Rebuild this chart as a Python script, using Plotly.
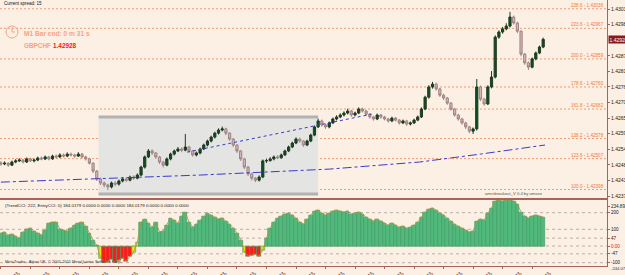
import plotly.graph_objects as go
import pandas as pd

# ---------------- data ----------------
bar_start = "2012-02-29 07:07"
bar_step = "2min"

open_ = [1.42492,1.42488,1.42491,1.42484,1.42495,1.42499,1.42502,1.42495,1.42506,1.42499,
 1.42502,1.42509,1.42506,1.42513,1.42506,1.42516,1.42513,1.42520,1.42516,1.42523,
 1.42520,1.42516,1.42523,1.42513,1.42506,1.42491,1.42463,1.42435,1.42421,1.42414,
 1.42407,1.42421,1.42417,1.42428,1.42435,1.42431,1.42442,1.42438,1.42449,1.42477,
 1.42513,1.42534,1.42527,1.42513,1.42495,1.42484,1.42506,1.42523,1.42534,1.42541,
 1.42537,1.42548,1.42534,1.42520,1.42527,1.42541,1.42555,1.42569,1.42583,1.42597,
 1.42608,1.42612,1.42597,1.42576,1.42555,1.42534,1.42506,1.42477,1.42453,1.42438,
 1.42431,1.42442,1.42499,1.42500,1.42506,1.42513,1.42510,1.42520,1.42534,1.42548,
 1.42562,1.42576,1.42569,1.42555,1.42569,1.42590,1.42619,1.42640,1.42626,1.42619,
 1.42633,1.42647,1.42654,1.42661,1.42668,1.42675,1.42661,1.42668,1.42682,1.42675,
 1.42664,1.42654,1.42647,1.42661,1.42654,1.42647,1.42640,1.42650,1.42643,1.42633,
 1.42640,1.42629,1.42633,1.42643,1.42654,1.42682,1.42724,1.42760,1.42770,1.42753,
 1.42731,1.42721,1.42703,1.42682,1.42661,1.42647,1.42633,1.42619,1.42604,1.42612,
 1.42760,1.42717,1.42700,1.42760,1.42795,1.42936,1.42954,1.42965,1.42975,1.43007,
 1.42986,1.42957,1.42876,1.42845,1.42830,1.42859,1.42880,1.42901]

high = [1.42498,1.42497,1.42494,1.42500,1.42505,1.42508,1.42506,1.42511,1.42510,1.42507,
 1.42514,1.42515,1.42518,1.42517,1.42521,1.42522,1.42526,1.42525,1.42529,1.42528,
 1.42524,1.42530,1.42527,1.42517,1.42510,1.42494,1.42467,1.42440,1.42426,1.42418,
 1.42426,1.42427,1.42433,1.42440,1.42441,1.42447,1.42448,1.42455,1.42482,1.42518,
 1.42541,1.42540,1.42530,1.42516,1.42499,1.42511,1.42528,1.42539,1.42548,1.42547,
 1.42594,1.42552,1.42538,1.42532,1.42546,1.42560,1.42574,1.42588,1.42602,1.42614,
 1.42620,1.42616,1.42600,1.42580,1.42558,1.42537,1.42510,1.42481,1.42457,1.42442,
 1.42448,1.42504,1.42507,1.42512,1.42518,1.42519,1.42525,1.42539,1.42553,1.42567,
 1.42582,1.42581,1.42572,1.42574,1.42595,1.42624,1.42648,1.42645,1.42630,1.42638,
 1.42652,1.42660,1.42667,1.42674,1.42683,1.42679,1.42673,1.42688,1.42687,1.42679,
 1.42668,1.42658,1.42666,1.42665,1.42658,1.42651,1.42655,1.42654,1.42647,1.42645,
 1.42644,1.42638,1.42648,1.42659,1.42688,1.42729,1.42766,1.42778,1.42775,1.42757,
 1.42736,1.42725,1.42707,1.42686,1.42665,1.42651,1.42637,1.42623,1.42617,1.42788,
 1.42765,1.42722,1.42766,1.42816,1.42942,1.42960,1.42972,1.42985,1.43025,1.43012,
 1.42990,1.42960,1.42880,1.42850,1.42864,1.42885,1.42906,1.42934]

low = [1.42482,1.42484,1.42478,1.42481,1.42491,1.42495,1.42490,1.42492,1.42495,1.42494,
 1.42498,1.42501,1.42502,1.42501,1.42503,1.42508,1.42509,1.42511,1.42512,1.42515,
 1.42510,1.42513,1.42508,1.42500,1.42486,1.42456,1.42428,1.42414,1.42406,1.42396,
 1.42402,1.42410,1.42412,1.42423,1.42425,1.42427,1.42432,1.42434,1.42445,1.42472,
 1.42509,1.42520,1.42506,1.42488,1.42476,1.42480,1.42501,1.42518,1.42530,1.42530,
 1.42533,1.42528,1.42514,1.42515,1.42522,1.42537,1.42550,1.42564,1.42578,1.42592,
 1.42603,1.42590,1.42570,1.42548,1.42527,1.42499,1.42470,1.42446,1.42430,1.42424,
 1.42426,1.42438,1.42492,1.42496,1.42501,1.42505,1.42506,1.42516,1.42530,1.42544,
 1.42558,1.42563,1.42549,1.42551,1.42565,1.42586,1.42615,1.42620,1.42612,1.42614,
 1.42629,1.42642,1.42650,1.42656,1.42663,1.42655,1.42656,1.42664,1.42670,1.42658,
 1.42648,1.42641,1.42643,1.42648,1.42642,1.42634,1.42636,1.42638,1.42627,1.42629,
 1.42623,1.42624,1.42629,1.42639,1.42650,1.42678,1.42719,1.42754,1.42747,1.42725,
 1.42714,1.42697,1.42676,1.42655,1.42641,1.42627,1.42612,1.42597,1.42594,1.42606,
 1.42710,1.42694,1.42696,1.42755,1.42790,1.42930,1.42948,1.42960,1.42970,1.42980,
 1.42950,1.42868,1.42838,1.42820,1.42826,1.42854,1.42876,1.42897]

close = [1.42488,1.42491,1.42484,1.42495,1.42499,1.42502,1.42495,1.42506,1.42499,1.42502,
 1.42509,1.42506,1.42513,1.42506,1.42516,1.42513,1.42520,1.42516,1.42523,1.42520,
 1.42516,1.42523,1.42513,1.42506,1.42491,1.42463,1.42435,1.42421,1.42414,1.42407,
 1.42421,1.42417,1.42428,1.42435,1.42431,1.42442,1.42438,1.42449,1.42477,1.42513,
 1.42534,1.42527,1.42513,1.42495,1.42484,1.42506,1.42523,1.42534,1.42541,1.42537,
 1.42548,1.42534,1.42520,1.42527,1.42541,1.42555,1.42569,1.42583,1.42597,1.42608,
 1.42612,1.42597,1.42576,1.42555,1.42534,1.42506,1.42477,1.42453,1.42438,1.42431,
 1.42442,1.42499,1.42500,1.42506,1.42513,1.42510,1.42520,1.42534,1.42548,1.42562,
 1.42576,1.42569,1.42555,1.42569,1.42590,1.42619,1.42640,1.42626,1.42619,1.42633,
 1.42647,1.42654,1.42661,1.42668,1.42675,1.42661,1.42668,1.42682,1.42675,1.42664,
 1.42654,1.42647,1.42661,1.42654,1.42647,1.42640,1.42650,1.42643,1.42633,1.42640,
 1.42629,1.42633,1.42643,1.42654,1.42682,1.42724,1.42760,1.42770,1.42753,1.42731,
 1.42721,1.42703,1.42682,1.42661,1.42647,1.42633,1.42619,1.42604,1.42612,1.42760,
 1.42717,1.42700,1.42760,1.42795,1.42936,1.42954,1.42965,1.42975,1.43007,1.42986,
 1.42957,1.42876,1.42845,1.42830,1.42859,1.42880,1.42901,1.42928]

cci = [78,84,66,72,60,48,84,102,108,90,
 78,66,96,138,144,144,102,96,90,108,
 126,138,144,120,78,36,6,-72,-96,-90,
 -78,-96,-84,-72,-90,-60,-36,24,144,162,
 138,114,144,84,90,126,168,156,138,180,
 204,144,114,132,156,180,198,186,174,162,
 168,150,132,108,78,36,-36,-60,-54,-48,
 -60,-24,48,108,144,168,180,192,198,186,
 168,144,132,162,186,210,216,198,186,198,
 210,216,210,204,210,192,198,204,192,174,
 162,150,162,150,138,126,138,126,114,120,
 108,114,126,144,174,204,222,228,216,198,
 186,168,150,132,120,108,96,84,90,150,
 162,156,198,228,270,276,270,276,276,270,
 252,204,180,168,180,186,180,174]
cci_yellow_bars = [27, 36, 37, 66, 71]

ma_times = ["2012-02-29 07:07", "2012-02-29 07:55", "2012-02-29 08:55", "2012-02-29 10:05",
            "2012-02-29 10:54", "2012-02-29 11:27", "2012-02-29 12:02"]
ma_values = [1.42424, 1.42435, 1.42449, 1.42470, 1.42495, 1.42523, 1.42555]

trend_times = ["2012-02-29 08:48", "2012-02-29 10:28"]
trend_values = [1.42530, 1.42664]

box_start, box_end = "2012-02-29 08:00", "2012-02-29 09:59"
box_high, box_low = 1.42654, 1.42382

fib_pct = [100.0, 123.6, 138.2, 161.8, 178.6, 200.0, 223.6, 238.6]
fib_price = [1.42398, 1.42507, 1.42578, 1.42682, 1.42760, 1.42859, 1.42967, 1.43036]

price_ticks = [1.42375, 1.42430, 1.42485, 1.42540, 1.42595, 1.42650, 1.42705,
               1.42760, 1.42815, 1.42870, 1.42980, 1.43035]
current_price = 1.42928

time_tick_start = "2012-02-29 07:07"
time_tick_labels = ["29 Feb 2012", "29 Feb 07:23", "29 Feb 07:39", "29 Feb 07:55", "29 Feb 08:11",
                    "29 Feb 08:27", "29 Feb 08:43", "29 Feb 08:59", "29 Feb 09:15", "29 Feb 09:31",
                    "29 Feb 09:47", "29 Feb 10:03", "29 Feb 10:19", "29 Feb 10:35", "29 Feb 10:51",
                    "29 Feb 11:07", "29 Feb 11:23", "29 Feb 11:39", "29 Feb 11:55"]

cci_levels = [200, 100, 47, 0, -47, -100]
cci_tick_vals = [234.895, 200, 100, 47, 0, -47, -100]
cci_tick_text = ["234.895", "200", "100", "47", "<span style='color:#e02020'>0.00</span>", "-47", "-100"]
cci_min_label = "-244.075"

# ---------------- layout helpers ----------------
W, H = 625, 275
def px(x):
    return x / W
def py(y):
    return 1 - y / H

BG = "#fcefe3"
FRAME = "#a8645a"
FONT = "Liberation Sans Narrow, Arial Narrow, Liberation Sans, Arial, sans-serif"

times = pd.date_range(bar_start, periods=len(close), freq=bar_step)
tick_times = pd.date_range(time_tick_start, periods=len(time_tick_labels), freq="16min")

fig = go.Figure()

fig.add_trace(go.Candlestick(
    x=times, open=open_, high=high, low=low, close=close,
    increasing=dict(line=dict(color="#1e3a22", width=1), fillcolor="#0f4f1f"),
    decreasing=dict(line=dict(color="#9c8484", width=1), fillcolor="#d6b6b6"),
    whiskerwidth=0, xaxis="x", yaxis="y", hoverinfo="skip"))

fig.add_trace(go.Scatter(x=pd.to_datetime(ma_times), y=ma_values, mode="lines",
                         line=dict(color="#3a3ad0", width=1, dash="dashdot"),
                         xaxis="x", yaxis="y", hoverinfo="skip"))
fig.add_trace(go.Scatter(x=pd.to_datetime(trend_times), y=trend_values, mode="lines",
                         line=dict(color="#3a3ad0", width=1, dash="dot"),
                         xaxis="x", yaxis="y", hoverinfo="skip"))

bar_colors = []
for i, v in enumerate(cci):
    if i in cci_yellow_bars:
        bar_colors.append("#f2e600")
    elif v >= 0:
        bar_colors.append("#52b97c")
    else:
        bar_colors.append("#ff1a1a")

fig.add_trace(go.Bar(x=times, y=cci, marker=dict(color=bar_colors, line=dict(width=0.6, color="#3a9a62")),
                     xaxis="x2", yaxis="y2", hoverinfo="skip"))
fig.add_trace(go.Scatter(x=times, y=cci, mode="lines", line=dict(color="#a8963c", width=0.8),
                         xaxis="x2", yaxis="y2", hoverinfo="skip"))

shapes = []
# breakout box
shapes.append(dict(type="rect", xref="x", yref="y", x0=box_start, x1=box_end, y0=box_low, y1=box_high,
                   fillcolor="#e4e4e2", line=dict(width=0), layer="below"))
for yv in (box_low, box_high):
    shapes.append(dict(type="line", xref="x", yref="y", x0=box_start, x1=box_end, y0=yv, y1=yv,
                       line=dict(color="#b2b2b2", width=3), layer="below"))
# fib lines
for p in fib_price:
    shapes.append(dict(type="line", xref="x domain", yref="y", x0=0, x1=1, y0=p, y1=p,
                       line=dict(color="#f29a72", width=1, dash="2px,2px"), layer="below"))
# cci level lines
for lv in cci_levels:
    shapes.append(dict(type="line", xref="x2 domain", yref="y2", x0=0, x1=1, y0=lv, y1=lv,
                       line=dict(color="#b8b0a8", width=1, dash="dot"), layer="below"))
# clock icon
shapes.append(dict(type="circle", xref="paper", yref="paper", x0=px(6), x1=px(18), y0=py(38), y1=py(26),
                   line=dict(color="#f4a487", width=1)))
shapes.append(dict(type="line", xref="paper", yref="paper", x0=px(12), x1=px(12), y0=py(32), y1=py(27.5),
                   line=dict(color="#f4a487", width=1)))
shapes.append(dict(type="line", xref="paper", yref="paper", x0=px(12), x1=px(15), y0=py(32), y1=py(32),
                   line=dict(color="#f4a487", width=1)))

ann = []
def text(x, y, s, size, color, bold=False, anchor="left"):
    if bold:
        s = "<b>" + s + "</b>"
    ann.append(dict(xref="paper", yref="paper", x=px(x), y=py(y), text=s, showarrow=False,
                    xanchor=anchor, yanchor="middle", font=dict(family=FONT, size=size, color=color)))

text(2, 4, "Current spread: 15", 4.5, "#111111")
text(22, 33.5, "M1 Bar end: 0 m 31 s", 6.6, "#f6a385", bold=True)
text(22, 45.5, "GBPCHF", 6.4, "#f6a385", bold=True)
text(51, 45.5, "1.42928", 6.4, "#ff1414", bold=True)
text(3, 205, "(TrendCCI: 222, EntryCCI: 0) 184.0179 0.0000 0.0000 0.0000 184.0179 0.0000 0.0000 0.0000",
     4.4, "#222222")
text(3, 261.5, "MetaTrader - Alpari UK, \u00a9 2001-2011 MetaQuotes Software Corp.", 4, "#333333")
text(545, 193.5, "amrcbreakout_V 0.4 by amsee", 4.2, "#555555", anchor="right")
text(609, 268.5, cci_min_label, 4.2, "#333333")

for pct, p in zip(fib_pct, fib_price):
    ann.append(dict(xref="paper", yref="y", x=px(606), y=p, text=f"{pct:.1f} - {p:.5f}", showarrow=False,
                    xanchor="right", yanchor="bottom", yshift=-1,
                    font=dict(family=FONT, size=4.6, color="#f07a3c")))

ann.append(dict(xref="paper", yref="y", x=px(608), y=current_price, text=f"{current_price:.5f}",
                showarrow=False, xanchor="left", yanchor="middle", bgcolor="#8a1a1a",
                borderpad=0.5, font=dict(family=FONT, size=5, color="#ffffff")))

xrange = ["2012-02-29 07:06:32", "2012-02-29 12:35:36"]
xdom = [0, 607 / W]

fig.update_layout(
    width=W, height=H, margin=dict(l=0, r=0, t=0, b=0),
    paper_bgcolor=BG, plot_bgcolor=BG, showlegend=False, bargap=0, boxgap=0.15,
    font=dict(family=FONT, size=5, color="#222222"),
    shapes=shapes, annotations=ann,
    xaxis=dict(domain=xdom, range=xrange, anchor="y", showticklabels=False, ticks="",
               showgrid=False, zeroline=False, showline=True, linecolor=FRAME, linewidth=1, mirror=True,
               rangeslider=dict(visible=False), fixedrange=True),
    yaxis=dict(domain=[py(198), 1], range=[1.42368, 1.43067], side="right", anchor="x",
               tickvals=price_ticks, ticktext=[f"{v:.5f}" for v in price_ticks],
               tickfont=dict(family=FONT, size=5, color="#222222"), ticks="outside", ticklen=2,
               tickcolor=FRAME, showgrid=False, zeroline=False, showline=True, linecolor=FRAME,
               linewidth=1, mirror=True, automargin=False),
    xaxis2=dict(domain=xdom, range=xrange, anchor="y2", matches="x", tickvals=tick_times,
                ticktext=time_tick_labels, ticks="outside", ticklabelshift=14, ticklabelstandoff=0,
                ticklen=2, tickcolor=FRAME, tickfont=dict(family=FONT, size=5.2, color="#5a2a22"),
                showgrid=False, zeroline=False, showline=True, linecolor=FRAME, linewidth=1,
                mirror=True, automargin=False),
    yaxis2=dict(domain=[py(265.5), py(199.5)], range=[-117, 279], side="right", anchor="x2",
                tickvals=cci_tick_vals, ticktext=cci_tick_text,
                tickfont=dict(family=FONT, size=4.6, color="#222222"), ticks="outside", ticklen=2,
                tickcolor=FRAME, showgrid=False, zeroline=False, showline=True, linecolor=FRAME,
                linewidth=1, mirror=True, automargin=False),
)

fig.write_html("out.html")
